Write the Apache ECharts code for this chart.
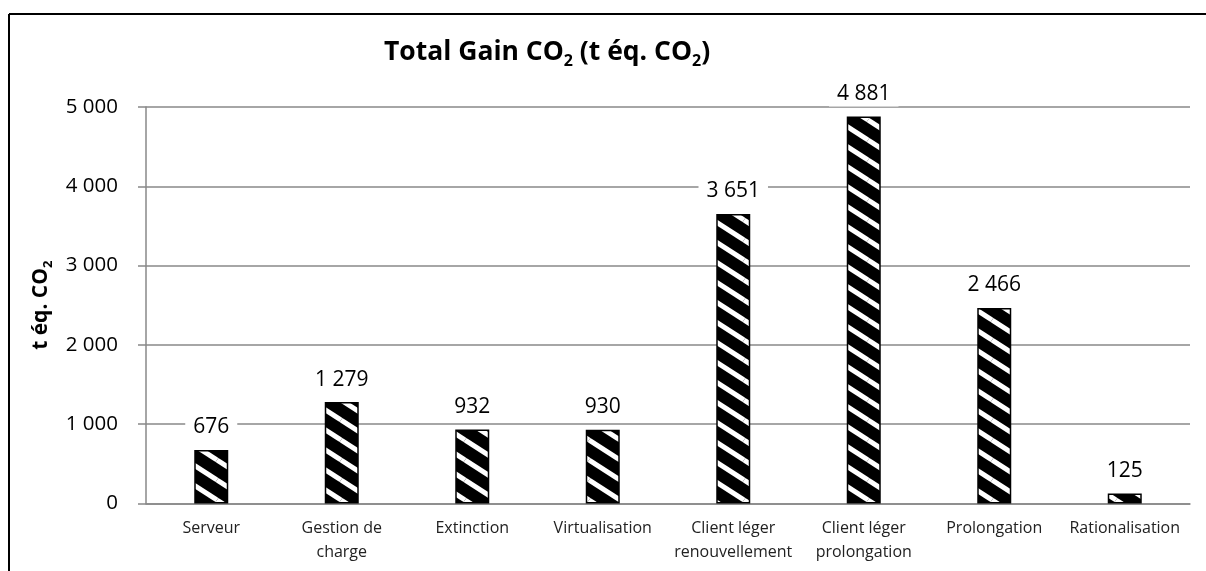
<!DOCTYPE html>
<html><head><meta charset="utf-8">
<script src="https://cdn.jsdelivr.net/npm/echarts@6/dist/echarts.min.js"></script>
<style>html,body{margin:0;padding:0;background:#fff}#c{width:1206px;height:571px}</style>
</head><body><div id="c"></div>
<script>
const categories = ['Serveur','Gestion de\ncharge','Extinction','Virtualisation','Client léger\nrenouvellement','Client léger\nprolongation','Prolongation','Rationalisation'];
const values = [676, 1279, 932, 930, 3651, 4881, 2466, 125];
const yTicks = [0, 1000, 2000, 3000, 4000, 5000];

const FONT = '"Open Sans", "Liberation Sans", sans-serif';
function fmt(v){ return String(v).replace(/\B(?=(\d{3})+(?!\d))/g,' '); }

// diagonal stripe pattern
const tile = document.createElement('canvas');
const TW = 31, TH = 20;
tile.width = TW; tile.height = TH;
const ctx = tile.getContext('2d');
ctx.fillStyle = '#000'; ctx.fillRect(0,0,TW,TH);
ctx.strokeStyle = '#fff'; ctx.lineWidth = 5;
for (let dx=-1; dx<=1; dx++) for (let dy=-1; dy<=1; dy++) {
  ctx.beginPath();
  ctx.moveTo(dx*TW, dy*TH); ctx.lineTo(dx*TW+TW, dy*TH+TH);
  ctx.stroke();
}

const chart = echarts.init(document.getElementById('c'), null, {renderer:'canvas'});
chart.setOption({
  animation: false,
  backgroundColor: '#fff',
  title: {
    text: '{a|Total Gain CO}{s|2}{a| (t éq. CO}{s|2}{a|)}',
    left: 379, top: 30,
    textStyle: {
      rich: {
        a: {fontSize: 26.5, fontWeight: 'bold', fontFamily: FONT, color: '#000', lineHeight: 34},
        s: {fontSize: 16, fontWeight: 'bold', fontFamily: FONT, color: '#000', verticalAlign: 'bottom', lineHeight: 34}
      }
    }
  },
  graphic: [
    {type:'line', shape:{x1:9, y1:14, x2:1206, y2:14}, style:{stroke:'#000', lineWidth:2}},
    {type:'line', shape:{x1:9, y1:14, x2:9, y2:571}, style:{stroke:'#000', lineWidth:2}}
  ],
  grid: {left: 146, right: 16, top: 107, bottom: 67.5, containLabel: false},
  xAxis: {
    type: 'category',
    data: categories,
    axisLine: {lineStyle: {color: '#888', width: 1.5}},
    axisTick: {show: false},
    axisLabel: {fontFamily: FONT, fontSize: 16, color: '#222', margin: 13, lineHeight: 24, interval: 0}
  },
  yAxis: {
    type: 'value',
    min: yTicks[0], max: yTicks[yTicks.length-1], interval: 1000,
    name: '{a|t éq. CO}{s|2}',
    nameLocation: 'middle', nameRotate: 90, nameGap: 88,
    nameTextStyle: {
      rich: {
        a: {fontSize: 21, fontWeight: 'bold', fontFamily: FONT, color: '#000', lineHeight: 28},
        s: {fontSize: 13, fontWeight: 'bold', fontFamily: FONT, color: '#000', verticalAlign: 'bottom', lineHeight: 28}
      }
    },
    axisLine: {show: true, lineStyle: {color: '#888', width: 1.5}},
    axisTick: {show: true, length: 8, inside: false, lineStyle: {color: '#888', width: 1.5}},
    splitLine: {lineStyle: {color: '#888', width: 1.5}},
    axisLabel: {fontFamily: FONT, fontSize: 20.5, color: '#000', margin: 28, formatter: fmt}
  },
  series: [{
    type: 'bar',
    data: values,
    barWidth: 34,
    itemStyle: {color: {image: tile, repeat: 'repeat'}, borderColor: '#000', borderWidth: 1.5},
    label: {
      show: true, position: 'top', distance: 10,
      fontFamily: FONT, fontSize: 21, color: '#000',
      backgroundColor: '#fff', padding: [2, 8],
      formatter: p => fmt(p.value)
    }
  }]
});
</script></body></html>
